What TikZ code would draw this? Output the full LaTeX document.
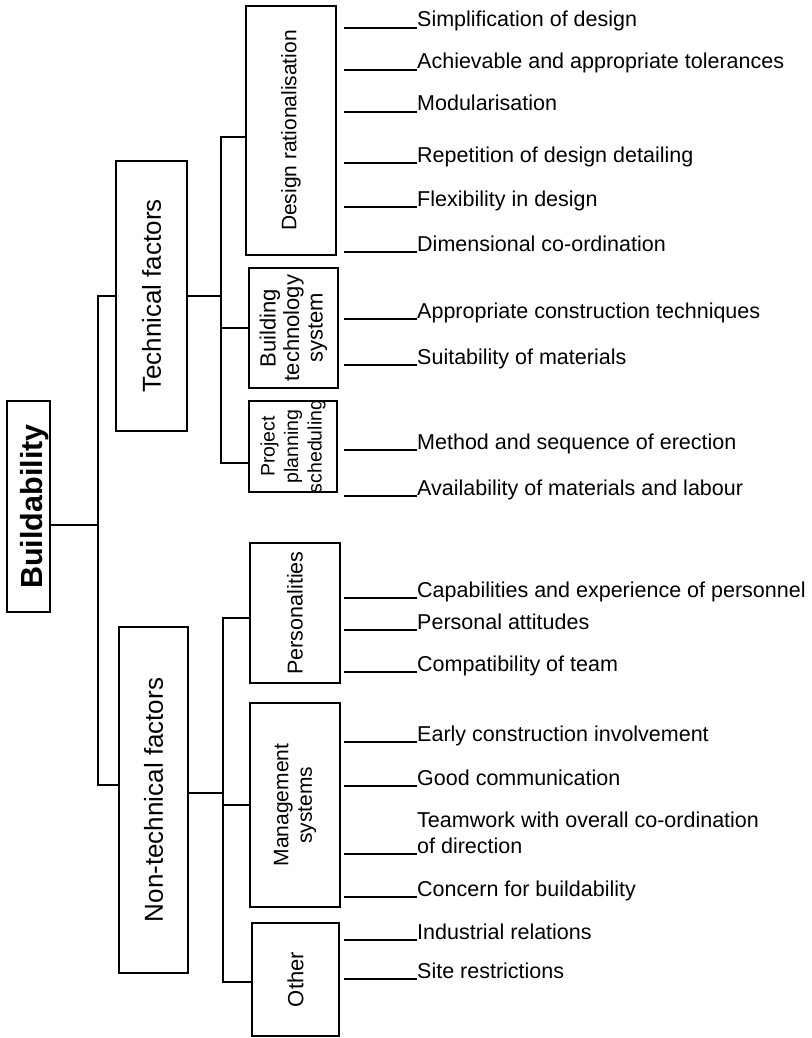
\documentclass[tikz,border=0pt]{standalone}
\usepackage{fontspec}
\setmainfont{Liberation Sans}
\newcommand{\leaffont}{\fontsize{21.5}{23}\selectfont}
\newcommand{\boxfont}[1]{\fontsize{#1}{23.5}\selectfont}
\newcommand{\midfont}{\fontsize{26}{30}\selectfont}
\newcommand{\rootfont}{\fontsize{30.5}{32}\selectfont\bfseries}
\begin{document}
\begin{tikzpicture}[x=1pt,y=-1pt,
  box/.style={draw, line width=1.9pt, inner sep=0pt},
  rottext/.style={rotate=90, align=center, inner sep=0pt},
  wire/.style={line width=1.9pt, line cap=rect},
  leaf/.style={anchor=base west, inner sep=0pt, font=\leaffont},
  leafline/.style={line width=1.5pt}]
\useasboundingbox[fill=white] (0,0) rectangle (811,1038);

% root
\node[box, minimum width=43pt, minimum height=211pt,
  label={[rottext, font=\rootfont, yshift=-6pt]center:Buildability}] (root) at (28.5,506.5) {};

% level 1
\node[box, minimum width=71pt, minimum height=270pt,
  label={[rottext, font=\midfont]center:Technical factors}] (tech) at (151.5,296) {};
\node[box, minimum width=69pt, minimum height=346pt,
  label={[rottext, font=\midfont]center:Non-technical factors}] (nontech) at (153.5,800) {};

% level 2
\node[box, minimum width=90pt, minimum height=249pt,
  label={[rottext, font=\boxfont{21}]center:Design rationalisation}] (dr) at (291,130.5) {};
\node[box, minimum width=89pt, minimum height=120pt,
  label={[rottext, font=\boxfont{22}]center:Building\\technology\\system}] (bts) at (293.5,328) {};
\node[box, minimum width=88pt, minimum height=91pt,
  label={[rottext, font=\boxfont{19.5}]center:Project\\planning\\scheduling}] (pps) at (293,446.5) {};
\node[box, minimum width=90pt, minimum height=140pt,
  label={[rottext, font=\boxfont{21.5}]center:Personalities}] (pers) at (295,613) {};
\node[box, minimum width=90pt, minimum height=204pt,
  label={[rottext, font=\boxfont{21}]center:Management\\systems}] (mgmt) at (295,805) {};
\node[box, minimum width=87pt, minimum height=113pt,
  label={[rottext, font=\boxfont{22}]center:Other}] (other) at (295.5,979.5) {};

% connectors
\coordinate (j0) at (98,525);
\coordinate (j1) at (221,296);
\coordinate (j2) at (223,793);
\coordinate (jb) at (221,328);
\coordinate (jm) at (223,805);
\draw[wire] ([yshift=-18.5pt]root.east) -- (j0);
\draw[wire] (tech.west) -| (j0) |- ([yshift=15pt]nontech.west);
\draw[wire] (tech.east) -- (j1);
\draw[wire] ([yshift=-6.5pt]dr.west) -| (j1) |- ([yshift=-16.5pt]pps.west);
\draw[wire] (jb) -- (bts.west);
\draw[wire] ([yshift=7pt]nontech.east) -- (j2);
\draw[wire] ([yshift=-5pt]pers.west) -| (j2) |- ([yshift=-2.5pt]other.west);
\draw[wire] (jm) -- (mgmt.west);

% leaves
\node[leaf] (a1) at (417,27) {Simplification of design};
\node[leaf] (a2) at (417,69) {Achievable and appropriate tolerances};
\node[leaf] (a3) at (417,111) {Modularisation};
\node[leaf] (a4) at (417,162) {Repetition of design detailing};
\node[leaf] (a5) at (417,206) {Flexibility in design};
\node[leaf] (a6) at (417,251) {Dimensional co-ordination};
\node[leaf] (b1) at (417,318) {Appropriate construction techniques};
\node[leaf] (b2) at (417,364) {Suitability of materials};
\node[leaf] (c1) at (417,449) {Method and sequence of erection};
\node[leaf] (c2) at (417,495) {Availability of materials and labour};
\node[leaf] (d1) at (417,597) {Capabilities and experience of personnel};
\node[leaf] (d2) at (417,629) {Personal attitudes};
\node[leaf] (d3) at (417,671) {Compatibility of team};
\node[leaf] (e1) at (417,741) {Early construction involvement};
\node[leaf] (e2) at (417,785) {Good communication};
\node[leaf] (e3a) at (417,827) {Teamwork with overall co-ordination};
\node[leaf] (e3) at (417,853) {of direction};
\node[leaf] (e4) at (417,896) {Concern for buildability};
\node[leaf] (f1) at (417,939) {Industrial relations};
\node[leaf] (f2) at (417,978) {Site restrictions};
\foreach \n in {a1,a2,a3,a4,a5,a6,b1,b2,c1,c2,d1,d2,d3,e1,e2,e3,e4,f1,f2}
  \draw[leafline] ([yshift=-1pt]\n.base west) -- ++(-73,0);
\end{tikzpicture}
\end{document}
